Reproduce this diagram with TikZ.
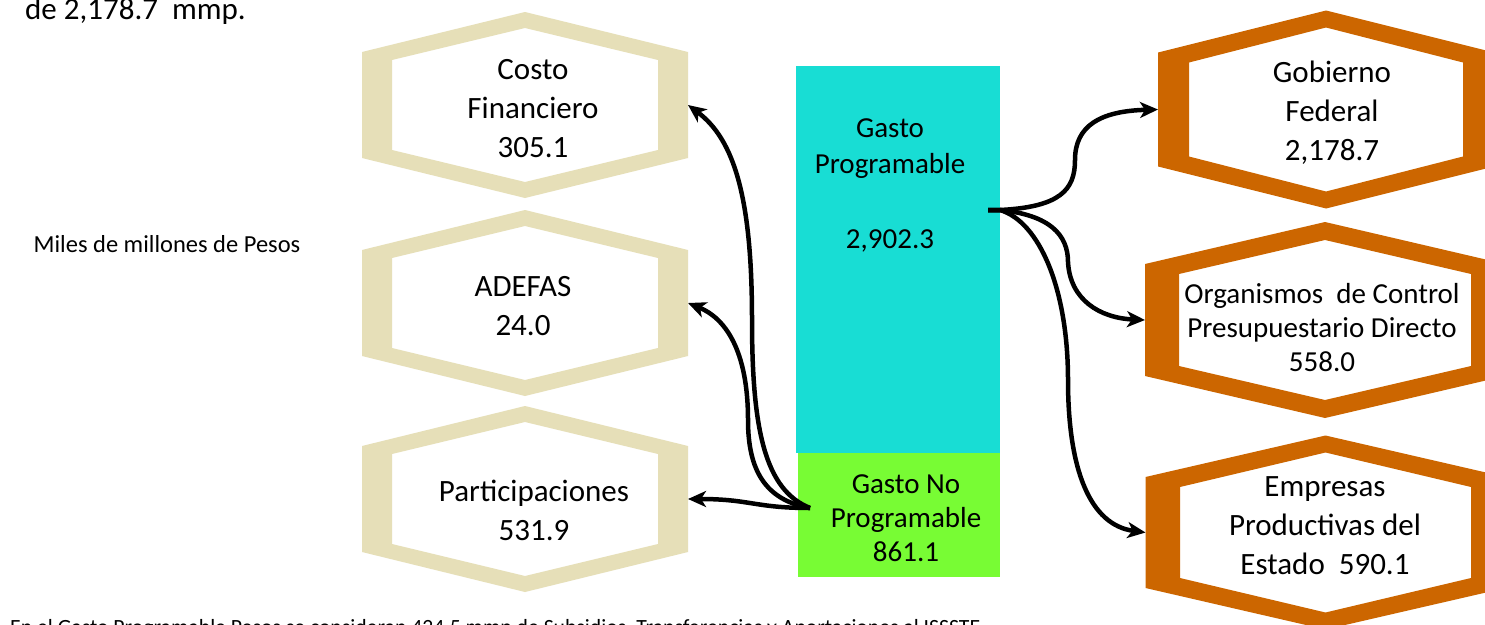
\documentclass[tikz,border=0pt]{standalone}
\usepackage{fontspec}
\setmainfont{Carlito}
\usetikzlibrary{arrows.meta}
\definecolor{hexbeige}{RGB}{230,223,184}
\definecolor{hexorange}{RGB}{204,102,0}
\definecolor{gpcyan}{RGB}{24,221,212}
\definecolor{gnpgreen}{RGB}{120,252,52}
\newcommand\hexring[8]{%
  \begin{scope}[shift={(#1.center)}]
    \fill[#2,even odd rule] (0,-#5)--(#3,-#4)--(#3,#4)--(0,#5)--(-#3,#4)--(-#3,-#4)--cycle
      (0,-#8)--(#6,-#7)--(#6,#7)--(0,#8)--(-#6,#7)--(-#6,-#7)--cycle;
  \end{scope}}
\tikzset{
  hexbox/.style={rectangle, inner sep=0pt, outer sep=0pt},
  hextext/.style={font=\fontsize{31}{39}\selectfont, align=center, inner sep=0pt},
  boxtext/.style={font=\fontsize{29}{36}\selectfont, align=center, inner sep=0pt},
  arr/.style={line width=4.5pt, -{Stealth[length=18pt,width=16pt,inset=5pt]}},
}
\begin{document}
\begin{tikzpicture}[x=1pt,y=-1pt]
\useasboundingbox (0,0) rectangle (1485,624);
\fill[white] (0,0) rectangle (1485,624);
\clip (0,0) rectangle (1485,624);

% left hexagons
\node[hexbox, minimum width=326pt, minimum height=186pt] (costo) at (525,105) {};
\node[hexbox, minimum width=326pt, minimum height=186pt] (adefas) at (525,303) {};
\node[hexbox, minimum width=326pt, minimum height=186pt] (part) at (525,499) {};
\hexring{costo}{hexbeige}{163}{53}{93}{133}{45}{77}
\hexring{adefas}{hexbeige}{163}{53}{93}{133}{45}{77}
\hexring{part}{hexbeige}{163}{53}{93}{133}{45}{77}
\node[hextext] (costot) at (533,109) {Costo\\Financiero\\305.1};
\node[hextext] (adefast) at (523,306) {ADEFAS\\24.0};
\node[hextext] (partt) at (534,510) {Participaciones\\531.9};

% right hexagons
\node[hexbox, minimum width=336pt, minimum height=198pt] (gob) at (1326,109.5) {};
\node[hexbox, minimum width=360pt, minimum height=196pt] (org) at (1325,320) {};
\node[hexbox, minimum width=360pt, minimum height=194pt] (emp) at (1325.5,532.5) {};
\hexring{gob}{hexorange}{168}{57}{99}{137}{47}{82}
\hexring{org}{hexorange}{180}{56}{98}{146}{46}{80}
\hexring{emp}{hexorange}{180}{55.5}{97}{145.5}{45.5}{80}
\node[hextext] (gobt) at (1332,113) {Gobierno\\Federal\\2,178.7};
\node[font=\fontsize{29}{34}\selectfont, align=center, inner sep=0pt] (orgt) at (1322,328) {Organismos~~de Control\\Presupuestario Directo\\558.0};
\node[hextext] (empt) at (1325,526) {Empresas\\Productivas del\\Estado~~590.1};

% central bars
\node[fill=gpcyan, minimum width=204pt, minimum height=387pt, inner sep=0pt] (gp) at (898,259.5) {};
\node[fill=gnpgreen, minimum width=202pt, minimum height=124pt, inner sep=0pt] (gnp) at (899,515) {};
\node[boxtext] (gpt) at (890,185.5) {Gasto\\Programable\\[39pt]2,902.3};
\node[font=\fontsize{29}{34}\selectfont, align=center, inner sep=0pt] (gnpt) at (906,518) {Gasto No\\Programable\\861.1};

% other texts
\node[font=\fontsize{31}{39}\selectfont, anchor=base west, inner sep=0pt] (toptext) at (25,19) {de 2,178.7~~mmp.};
\node[font=\fontsize{24.5}{29}\selectfont, inner sep=0pt] (units) at (167,244) {Miles de millones de Pesos};
\node[font=\fontsize{21.7}{26}\selectfont, anchor=base west, inner sep=0pt] (note) at (10,634) {En el Gasto Programable Pesos se consideran 424.5 mmp de Subsidios, Transferencias y Aportaciones al ISSSTE};

% connectors
\coordinate (gpout) at (988,210);
\coordinate (gnpout) at (810,508);
\draw[arr] (gpout) -- (1000,210) .. controls (1060,207) and (1075,190) .. (1075,160) .. controls (1075,126) and (1100,111) .. (gob.west);
\draw[arr] (gpout) -- (1000,210) .. controls (1050,215) and (1068,235) .. (1068,262) .. controls (1070,300) and (1100,318) .. (org.west);
\draw[arr] (gpout) -- (1000,210) .. controls (1040,222) and (1068,290) .. (1068,380) .. controls (1068,470) and (1090,525) .. (emp.west);
\draw[arr] (gnpout) .. controls (765,490) and (752,430) .. (752,320) .. controls (752,200) and (735,140) .. (costo.east);
\draw[arr] (gnpout) .. controls (765,500) and (748,470) .. (748,420) .. controls (748,350) and (725,318) .. (adefas.east);
\draw[arr] (gnpout) .. controls (755,508) and (750,499) .. (part.east);
\end{tikzpicture}
\end{document}
